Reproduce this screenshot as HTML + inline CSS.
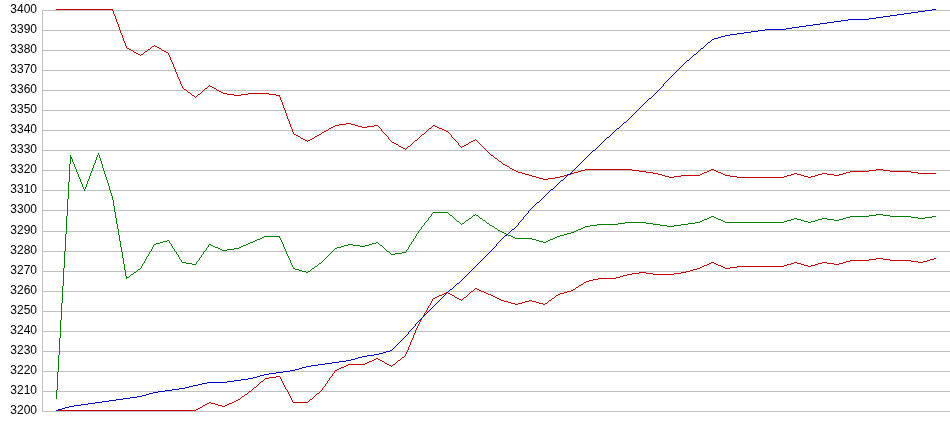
<!DOCTYPE html>
<html><head><meta charset="utf-8"><style>
html,body{margin:0;padding:0;background:#fff;width:950px;height:435px;overflow:hidden}
svg{display:block}
text{font-family:"Liberation Sans",sans-serif;font-size:12px;fill:#000;text-anchor:end}
</style></head><body>
<svg width="950" height="435" viewBox="0 0 950 435" shape-rendering="crispEdges">
<rect width="950" height="435" fill="#fff"/>
<path fill="#c0c0c0" d="M42 10H950v1H42zM42 30H950v1H42zM42 50H950v1H42zM42 70H950v1H42zM42 90H950v1H42zM42 110H950v1H42zM42 130H950v1H42zM42 150H950v1H42zM42 170H950v1H42zM42 190H950v1H42zM42 210H950v1H42zM42 231H950v1H42zM42 251H950v1H42zM42 271H950v1H42zM42 291H950v1H42zM42 311H950v1H42zM42 331H950v1H42zM42 351H950v1H42zM42 371H950v1H42zM42 391H950v1H42zM42 411H950v1H42zM42 10h1V412h-1z"/>
<g style="will-change:transform;transform:translateZ(0)" shape-rendering="auto"><text x="37" y="12.5">3400</text><text x="37" y="32.5">3390</text><text x="37" y="52.5">3380</text><text x="37" y="72.5">3370</text><text x="37" y="92.5">3360</text><text x="37" y="112.5">3350</text><text x="37" y="132.5">3340</text><text x="37" y="152.5">3330</text><text x="37" y="172.5">3320</text><text x="37" y="192.5">3310</text><text x="37" y="212.5">3300</text><text x="37" y="233.5">3290</text><text x="37" y="253.5">3280</text><text x="37" y="273.5">3270</text><text x="37" y="293.5">3260</text><text x="37" y="313.5">3250</text><text x="37" y="333.5">3240</text><text x="37" y="353.5">3230</text><text x="37" y="373.5">3220</text><text x="37" y="393.5">3210</text><text x="37" y="413.5">3200</text></g>
<path fill="#c80000" d="M56 9h57v1h-57zM112 10h1v1h-1zM113 11h1v1h-1zM113 12h1v1h-1zM113 13h1v1h-1zM114 14h1v1h-1zM114 15h1v1h-1zM115 16h1v1h-1zM115 17h1v1h-1zM115 18h1v1h-1zM116 19h1v1h-1zM116 20h1v1h-1zM116 21h1v1h-1zM117 22h1v1h-1zM117 23h1v1h-1zM118 24h1v1h-1zM118 25h1v1h-1zM118 26h1v1h-1zM119 27h1v1h-1zM119 28h1v1h-1zM119 29h1v1h-1zM120 30h1v1h-1zM120 31h1v1h-1zM120 32h1v1h-1zM121 33h1v1h-1zM121 34h1v1h-1zM122 35h1v1h-1zM122 36h1v1h-1zM122 37h1v1h-1zM123 38h1v1h-1zM123 39h1v1h-1zM123 40h1v1h-1zM124 41h1v1h-1zM124 42h1v1h-1zM125 43h1v1h-1zM125 44h1v1h-1zM125 45h1v1h-1zM154 45h1v1h-1zM126 46h1v1h-1zM152 46h2v1h-2zM155 46h2v1h-2zM126 47h1v1h-1zM151 47h1v1h-1zM157 47h2v1h-2zM127 48h2v1h-2zM150 48h1v1h-1zM159 48h2v1h-2zM129 49h2v1h-2zM148 49h2v1h-2zM161 49h1v1h-1zM131 50h2v1h-2zM147 50h1v1h-1zM162 50h2v1h-2zM133 51h1v1h-1zM145 51h2v1h-2zM164 51h2v1h-2zM134 52h2v1h-2zM144 52h1v1h-1zM166 52h2v1h-2zM136 53h2v1h-2zM143 53h1v1h-1zM168 53h1v1h-1zM138 54h2v1h-2zM141 54h2v1h-2zM168 54h1v1h-1zM140 55h1v1h-1zM169 55h1v1h-1zM169 56h1v1h-1zM170 57h1v1h-1zM170 58h1v1h-1zM170 59h1v1h-1zM171 60h1v1h-1zM171 61h1v1h-1zM172 62h1v1h-1zM172 63h1v1h-1zM173 64h1v1h-1zM173 65h1v1h-1zM173 66h1v1h-1zM174 67h1v1h-1zM174 68h1v1h-1zM175 69h1v1h-1zM175 70h1v1h-1zM175 71h1v1h-1zM176 72h1v1h-1zM176 73h1v1h-1zM177 74h1v1h-1zM177 75h1v1h-1zM177 76h1v1h-1zM178 77h1v1h-1zM178 78h1v1h-1zM179 79h1v1h-1zM179 80h1v1h-1zM180 81h1v1h-1zM180 82h1v1h-1zM180 83h1v1h-1zM181 84h1v1h-1zM181 85h1v1h-1zM209 85h1v1h-1zM182 86h1v1h-1zM208 86h1v1h-1zM210 86h2v1h-2zM182 87h1v1h-1zM207 87h1v1h-1zM212 87h2v1h-2zM183 88h1v1h-1zM205 88h2v1h-2zM214 88h2v1h-2zM184 89h2v1h-2zM204 89h1v1h-1zM216 89h1v1h-1zM186 90h1v1h-1zM203 90h1v1h-1zM217 90h2v1h-2zM187 91h1v1h-1zM202 91h1v1h-1zM219 91h2v1h-2zM188 92h2v1h-2zM201 92h1v1h-1zM221 92h2v1h-2zM190 93h1v1h-1zM200 93h1v1h-1zM223 93h4v1h-4zM248 93h21v1h-21zM191 94h1v1h-1zM198 94h2v1h-2zM227 94h7v1h-7zM241 94h7v1h-7zM269 94h7v1h-7zM192 95h2v1h-2zM197 95h1v1h-1zM234 95h7v1h-7zM276 95h4v1h-4zM194 96h1v1h-1zM196 96h1v1h-1zM279 96h1v1h-1zM195 97h1v1h-1zM280 97h1v1h-1zM280 98h1v1h-1zM280 99h1v1h-1zM281 100h1v1h-1zM281 101h1v1h-1zM282 102h1v1h-1zM282 103h1v1h-1zM282 104h1v1h-1zM283 105h1v1h-1zM283 106h1v1h-1zM283 107h1v1h-1zM284 108h1v1h-1zM284 109h1v1h-1zM285 110h1v1h-1zM285 111h1v1h-1zM285 112h1v1h-1zM286 113h1v1h-1zM286 114h1v1h-1zM286 115h1v1h-1zM287 116h1v1h-1zM287 117h1v1h-1zM287 118h1v1h-1zM288 119h1v1h-1zM288 120h1v1h-1zM289 121h1v1h-1zM289 122h1v1h-1zM289 123h1v1h-1zM346 123h5v1h-5zM290 124h1v1h-1zM339 124h7v1h-7zM351 124h4v1h-4zM290 125h1v1h-1zM335 125h4v1h-4zM355 125h3v1h-3zM374 125h4v1h-4zM433 125h2v1h-2zM290 126h1v1h-1zM333 126h2v1h-2zM358 126h4v1h-4zM367 126h7v1h-7zM378 126h1v1h-1zM432 126h1v1h-1zM435 126h2v1h-2zM291 127h1v1h-1zM331 127h2v1h-2zM362 127h5v1h-5zM379 127h1v1h-1zM431 127h1v1h-1zM437 127h2v1h-2zM291 128h1v1h-1zM329 128h2v1h-2zM380 128h1v1h-1zM429 128h2v1h-2zM439 128h3v1h-3zM292 129h1v1h-1zM328 129h1v1h-1zM381 129h1v1h-1zM428 129h1v1h-1zM442 129h2v1h-2zM292 130h1v1h-1zM326 130h2v1h-2zM381 130h1v1h-1zM427 130h1v1h-1zM444 130h2v1h-2zM292 131h1v1h-1zM324 131h2v1h-2zM382 131h1v1h-1zM426 131h1v1h-1zM446 131h2v1h-2zM293 132h1v1h-1zM322 132h2v1h-2zM383 132h1v1h-1zM425 132h1v1h-1zM448 132h1v1h-1zM293 133h1v1h-1zM321 133h1v1h-1zM384 133h1v1h-1zM424 133h1v1h-1zM449 133h1v1h-1zM294 134h2v1h-2zM319 134h2v1h-2zM385 134h1v1h-1zM422 134h2v1h-2zM450 134h1v1h-1zM296 135h2v1h-2zM317 135h2v1h-2zM386 135h1v1h-1zM421 135h1v1h-1zM451 135h1v1h-1zM298 136h2v1h-2zM315 136h2v1h-2zM387 136h1v1h-1zM420 136h1v1h-1zM451 136h1v1h-1zM300 137h1v1h-1zM314 137h1v1h-1zM388 137h1v1h-1zM419 137h1v1h-1zM452 137h1v1h-1zM301 138h2v1h-2zM312 138h2v1h-2zM388 138h1v1h-1zM418 138h1v1h-1zM453 138h1v1h-1zM303 139h2v1h-2zM310 139h2v1h-2zM389 139h1v1h-1zM417 139h1v1h-1zM454 139h1v1h-1zM475 139h1v1h-1zM305 140h2v1h-2zM308 140h2v1h-2zM390 140h1v1h-1zM415 140h2v1h-2zM455 140h1v1h-1zM473 140h2v1h-2zM476 140h1v1h-1zM307 141h1v1h-1zM391 141h1v1h-1zM414 141h1v1h-1zM456 141h1v1h-1zM471 141h2v1h-2zM477 141h1v1h-1zM392 142h2v1h-2zM413 142h1v1h-1zM457 142h1v1h-1zM469 142h2v1h-2zM478 142h1v1h-1zM394 143h2v1h-2zM412 143h1v1h-1zM458 143h1v1h-1zM468 143h1v1h-1zM479 143h1v1h-1zM396 144h2v1h-2zM411 144h1v1h-1zM458 144h1v1h-1zM466 144h2v1h-2zM480 144h1v1h-1zM398 145h1v1h-1zM410 145h1v1h-1zM459 145h1v1h-1zM464 145h2v1h-2zM481 145h1v1h-1zM399 146h2v1h-2zM408 146h2v1h-2zM460 146h1v1h-1zM462 146h2v1h-2zM482 146h1v1h-1zM401 147h2v1h-2zM407 147h1v1h-1zM461 147h1v1h-1zM483 147h1v1h-1zM403 148h2v1h-2zM406 148h1v1h-1zM484 148h1v1h-1zM405 149h1v1h-1zM485 149h1v1h-1zM486 150h1v1h-1zM487 151h1v1h-1zM488 152h1v1h-1zM489 153h1v1h-1zM490 154h1v1h-1zM491 155h2v1h-2zM493 156h1v1h-1zM494 157h1v1h-1zM495 158h2v1h-2zM497 159h1v1h-1zM498 160h1v1h-1zM499 161h2v1h-2zM501 162h1v1h-1zM502 163h1v1h-1zM503 164h2v1h-2zM505 165h2v1h-2zM507 166h2v1h-2zM509 167h1v1h-1zM510 168h2v1h-2zM512 169h2v1h-2zM585 169h47v1h-47zM711 169h3v1h-3zM876 169h7v1h-7zM514 170h2v1h-2zM581 170h4v1h-4zM632 170h7v1h-7zM709 170h2v1h-2zM714 170h2v1h-2zM869 170h7v1h-7zM883 170h7v1h-7zM516 171h2v1h-2zM578 171h3v1h-3zM639 171h7v1h-7zM707 171h2v1h-2zM716 171h2v1h-2zM850 171h19v1h-19zM890 171h21v1h-21zM518 172h4v1h-4zM574 172h4v1h-4zM646 172h7v1h-7zM704 172h3v1h-3zM718 172h3v1h-3zM846 172h4v1h-4zM911 172h7v1h-7zM522 173h3v1h-3zM571 173h3v1h-3zM653 173h5v1h-5zM702 173h2v1h-2zM721 173h2v1h-2zM794 173h3v1h-3zM822 173h5v1h-5zM843 173h3v1h-3zM918 173h18v1h-18zM525 174h4v1h-4zM567 174h4v1h-4zM658 174h4v1h-4zM700 174h2v1h-2zM723 174h2v1h-2zM791 174h3v1h-3zM797 174h4v1h-4zM818 174h4v1h-4zM827 174h7v1h-7zM839 174h4v1h-4zM529 175h3v1h-3zM564 175h3v1h-3zM662 175h3v1h-3zM681 175h19v1h-19zM725 175h5v1h-5zM787 175h4v1h-4zM801 175h3v1h-3zM815 175h3v1h-3zM834 175h5v1h-5zM532 176h4v1h-4zM560 176h4v1h-4zM665 176h4v1h-4zM674 176h7v1h-7zM730 176h7v1h-7zM784 176h3v1h-3zM804 176h4v1h-4zM811 176h4v1h-4zM536 177h3v1h-3zM555 177h5v1h-5zM669 177h5v1h-5zM737 177h47v1h-47zM808 177h3v1h-3zM539 178h4v1h-4zM548 178h7v1h-7zM543 179h5v1h-5z"/>
<path fill="#008000" d="M98 153h1v1h-1zM98 154h1v1h-1zM70 155h1v1h-1zM97 155h1v1h-1zM99 155h1v1h-1zM70 156h1v1h-1zM97 156h1v1h-1zM99 156h1v1h-1zM70 157h2v1h-2zM96 157h1v1h-1zM99 157h1v1h-1zM70 158h2v1h-2zM96 158h1v1h-1zM100 158h1v1h-1zM70 159h1v1h-1zM72 159h1v1h-1zM96 159h1v1h-1zM100 159h1v1h-1zM70 160h1v1h-1zM72 160h1v1h-1zM95 160h1v1h-1zM100 160h1v1h-1zM70 161h1v1h-1zM72 161h1v1h-1zM95 161h1v1h-1zM101 161h1v1h-1zM70 162h1v1h-1zM73 162h1v1h-1zM95 162h1v1h-1zM101 162h1v1h-1zM70 163h1v1h-1zM73 163h1v1h-1zM94 163h1v1h-1zM101 163h1v1h-1zM69 164h1v1h-1zM74 164h1v1h-1zM94 164h1v1h-1zM102 164h1v1h-1zM69 165h1v1h-1zM74 165h1v1h-1zM93 165h1v1h-1zM102 165h1v1h-1zM69 166h1v1h-1zM74 166h1v1h-1zM93 166h1v1h-1zM102 166h1v1h-1zM69 167h1v1h-1zM75 167h1v1h-1zM93 167h1v1h-1zM102 167h1v1h-1zM69 168h1v1h-1zM75 168h1v1h-1zM92 168h1v1h-1zM103 168h1v1h-1zM69 169h1v1h-1zM76 169h1v1h-1zM92 169h1v1h-1zM103 169h1v1h-1zM69 170h1v1h-1zM76 170h1v1h-1zM92 170h1v1h-1zM103 170h1v1h-1zM69 171h1v1h-1zM76 171h1v1h-1zM91 171h1v1h-1zM104 171h1v1h-1zM69 172h1v1h-1zM77 172h1v1h-1zM91 172h1v1h-1zM104 172h1v1h-1zM69 173h1v1h-1zM77 173h1v1h-1zM90 173h1v1h-1zM104 173h1v1h-1zM69 174h1v1h-1zM78 174h1v1h-1zM90 174h1v1h-1zM105 174h1v1h-1zM69 175h1v1h-1zM78 175h1v1h-1zM90 175h1v1h-1zM105 175h1v1h-1zM69 176h1v1h-1zM78 176h1v1h-1zM89 176h1v1h-1zM105 176h1v1h-1zM69 177h1v1h-1zM79 177h1v1h-1zM89 177h1v1h-1zM106 177h1v1h-1zM69 178h1v1h-1zM79 178h1v1h-1zM89 178h1v1h-1zM106 178h1v1h-1zM69 179h1v1h-1zM80 179h1v1h-1zM88 179h1v1h-1zM106 179h1v1h-1zM69 180h1v1h-1zM80 180h1v1h-1zM88 180h1v1h-1zM107 180h1v1h-1zM69 181h1v1h-1zM80 181h1v1h-1zM87 181h1v1h-1zM107 181h1v1h-1zM68 182h1v1h-1zM81 182h1v1h-1zM87 182h1v1h-1zM107 182h1v1h-1zM68 183h1v1h-1zM81 183h1v1h-1zM87 183h1v1h-1zM108 183h1v1h-1zM68 184h1v1h-1zM82 184h1v1h-1zM86 184h1v1h-1zM108 184h1v1h-1zM68 185h1v1h-1zM82 185h1v1h-1zM86 185h1v1h-1zM108 185h1v1h-1zM68 186h1v1h-1zM82 186h1v1h-1zM86 186h1v1h-1zM109 186h1v1h-1zM68 187h1v1h-1zM83 187h1v1h-1zM85 187h1v1h-1zM109 187h1v1h-1zM68 188h1v1h-1zM83 188h1v1h-1zM85 188h1v1h-1zM109 188h1v1h-1zM68 189h1v1h-1zM84 189h1v1h-1zM109 189h1v1h-1zM68 190h1v1h-1zM84 190h1v1h-1zM110 190h1v1h-1zM68 191h1v1h-1zM110 191h1v1h-1zM68 192h1v1h-1zM110 192h1v1h-1zM68 193h1v1h-1zM111 193h1v1h-1zM68 194h1v1h-1zM111 194h1v1h-1zM68 195h1v1h-1zM111 195h1v1h-1zM68 196h1v1h-1zM112 196h1v1h-1zM68 197h1v1h-1zM112 197h1v1h-1zM68 198h1v1h-1zM112 198h1v1h-1zM67 199h1v1h-1zM112 199h1v1h-1zM67 200h1v1h-1zM113 200h1v1h-1zM67 201h1v1h-1zM113 201h1v1h-1zM67 202h1v1h-1zM113 202h1v1h-1zM67 203h1v1h-1zM113 203h1v1h-1zM67 204h1v1h-1zM113 204h1v1h-1zM67 205h1v1h-1zM113 205h1v1h-1zM67 206h1v1h-1zM114 206h1v1h-1zM67 207h1v1h-1zM114 207h1v1h-1zM67 208h1v1h-1zM114 208h1v1h-1zM67 209h1v1h-1zM114 209h1v1h-1zM67 210h1v1h-1zM114 210h1v1h-1zM67 211h1v1h-1zM114 211h1v1h-1zM67 212h1v1h-1zM115 212h1v1h-1zM433 212h15v1h-15zM67 213h1v1h-1zM115 213h1v1h-1zM432 213h1v1h-1zM448 213h1v1h-1zM67 214h1v1h-1zM115 214h1v1h-1zM431 214h1v1h-1zM449 214h1v1h-1zM475 214h1v1h-1zM876 214h7v1h-7zM67 215h1v1h-1zM115 215h1v1h-1zM431 215h1v1h-1zM450 215h2v1h-2zM473 215h2v1h-2zM476 215h2v1h-2zM869 215h7v1h-7zM883 215h7v1h-7zM66 216h1v1h-1zM115 216h1v1h-1zM430 216h1v1h-1zM452 216h1v1h-1zM472 216h1v1h-1zM478 216h1v1h-1zM711 216h3v1h-3zM850 216h19v1h-19zM890 216h21v1h-21zM932 216h4v1h-4zM66 217h1v1h-1zM115 217h1v1h-1zM429 217h1v1h-1zM453 217h1v1h-1zM471 217h1v1h-1zM479 217h1v1h-1zM709 217h2v1h-2zM714 217h2v1h-2zM846 217h4v1h-4zM911 217h7v1h-7zM925 217h7v1h-7zM66 218h1v1h-1zM116 218h1v1h-1zM428 218h1v1h-1zM454 218h1v1h-1zM469 218h2v1h-2zM480 218h2v1h-2zM707 218h2v1h-2zM716 218h2v1h-2zM794 218h3v1h-3zM822 218h5v1h-5zM843 218h3v1h-3zM918 218h7v1h-7zM66 219h1v1h-1zM116 219h1v1h-1zM428 219h1v1h-1zM455 219h1v1h-1zM468 219h1v1h-1zM482 219h1v1h-1zM704 219h3v1h-3zM718 219h3v1h-3zM791 219h3v1h-3zM797 219h4v1h-4zM818 219h4v1h-4zM827 219h7v1h-7zM839 219h4v1h-4zM66 220h1v1h-1zM116 220h1v1h-1zM427 220h1v1h-1zM456 220h1v1h-1zM466 220h2v1h-2zM483 220h2v1h-2zM702 220h2v1h-2zM721 220h2v1h-2zM787 220h4v1h-4zM801 220h3v1h-3zM815 220h3v1h-3zM834 220h5v1h-5zM66 221h1v1h-1zM116 221h1v1h-1zM426 221h1v1h-1zM457 221h2v1h-2zM465 221h1v1h-1zM485 221h1v1h-1zM700 221h2v1h-2zM723 221h2v1h-2zM784 221h3v1h-3zM804 221h4v1h-4zM811 221h4v1h-4zM66 222h1v1h-1zM116 222h1v1h-1zM425 222h1v1h-1zM459 222h1v1h-1zM464 222h1v1h-1zM486 222h1v1h-1zM625 222h21v1h-21zM695 222h5v1h-5zM725 222h59v1h-59zM808 222h3v1h-3zM66 223h1v1h-1zM116 223h1v1h-1zM424 223h1v1h-1zM460 223h1v1h-1zM462 223h2v1h-2zM487 223h2v1h-2zM618 223h7v1h-7zM646 223h7v1h-7zM688 223h7v1h-7zM66 224h1v1h-1zM117 224h1v1h-1zM424 224h1v1h-1zM461 224h1v1h-1zM489 224h1v1h-1zM597 224h21v1h-21zM653 224h7v1h-7zM681 224h7v1h-7zM66 225h1v1h-1zM117 225h1v1h-1zM423 225h1v1h-1zM490 225h2v1h-2zM590 225h7v1h-7zM660 225h7v1h-7zM674 225h7v1h-7zM66 226h1v1h-1zM117 226h1v1h-1zM422 226h1v1h-1zM492 226h2v1h-2zM585 226h5v1h-5zM667 226h7v1h-7zM66 227h1v1h-1zM117 227h1v1h-1zM421 227h1v1h-1zM494 227h1v1h-1zM583 227h2v1h-2zM66 228h1v1h-1zM117 228h1v1h-1zM421 228h1v1h-1zM495 228h2v1h-2zM581 228h2v1h-2zM66 229h1v1h-1zM118 229h1v1h-1zM420 229h1v1h-1zM497 229h1v1h-1zM578 229h3v1h-3zM66 230h1v1h-1zM118 230h1v1h-1zM419 230h1v1h-1zM498 230h2v1h-2zM576 230h2v1h-2zM66 231h1v1h-1zM118 231h1v1h-1zM418 231h1v1h-1zM500 231h2v1h-2zM574 231h2v1h-2zM66 232h1v1h-1zM118 232h1v1h-1zM418 232h1v1h-1zM502 232h2v1h-2zM571 232h3v1h-3zM66 233h1v1h-1zM118 233h1v1h-1zM417 233h1v1h-1zM504 233h2v1h-2zM567 233h4v1h-4zM65 234h1v1h-1zM118 234h1v1h-1zM416 234h1v1h-1zM506 234h2v1h-2zM564 234h3v1h-3zM65 235h1v1h-1zM119 235h1v1h-1zM416 235h1v1h-1zM508 235h3v1h-3zM560 235h4v1h-4zM65 236h1v1h-1zM119 236h1v1h-1zM264 236h16v1h-16zM415 236h1v1h-1zM511 236h2v1h-2zM557 236h3v1h-3zM65 237h1v1h-1zM119 237h1v1h-1zM262 237h2v1h-2zM279 237h1v1h-1zM415 237h1v1h-1zM513 237h2v1h-2zM555 237h2v1h-2zM65 238h1v1h-1zM119 238h1v1h-1zM260 238h2v1h-2zM280 238h1v1h-1zM414 238h1v1h-1zM515 238h17v1h-17zM553 238h2v1h-2zM65 239h1v1h-1zM119 239h1v1h-1zM257 239h3v1h-3zM280 239h1v1h-1zM413 239h1v1h-1zM532 239h4v1h-4zM550 239h3v1h-3zM65 240h1v1h-1zM119 240h1v1h-1zM167 240h2v1h-2zM255 240h2v1h-2zM281 240h1v1h-1zM413 240h1v1h-1zM536 240h3v1h-3zM548 240h2v1h-2zM65 241h1v1h-1zM120 241h1v1h-1zM163 241h4v1h-4zM169 241h1v1h-1zM253 241h2v1h-2zM281 241h1v1h-1zM412 241h1v1h-1zM539 241h4v1h-4zM546 241h2v1h-2zM65 242h1v1h-1zM120 242h1v1h-1zM160 242h3v1h-3zM169 242h1v1h-1zM250 242h3v1h-3zM282 242h1v1h-1zM376 242h2v1h-2zM411 242h1v1h-1zM543 242h3v1h-3zM65 243h1v1h-1zM120 243h1v1h-1zM156 243h4v1h-4zM170 243h1v1h-1zM248 243h2v1h-2zM282 243h1v1h-1zM372 243h4v1h-4zM378 243h1v1h-1zM411 243h1v1h-1zM65 244h1v1h-1zM120 244h1v1h-1zM154 244h2v1h-2zM171 244h1v1h-1zM209 244h2v1h-2zM246 244h2v1h-2zM283 244h1v1h-1zM348 244h5v1h-5zM369 244h3v1h-3zM379 244h1v1h-1zM410 244h1v1h-1zM65 245h1v1h-1zM120 245h1v1h-1zM153 245h1v1h-1zM171 245h1v1h-1zM208 245h1v1h-1zM211 245h2v1h-2zM243 245h3v1h-3zM283 245h1v1h-1zM344 245h4v1h-4zM353 245h7v1h-7zM365 245h4v1h-4zM380 245h2v1h-2zM409 245h1v1h-1zM65 246h1v1h-1zM120 246h1v1h-1zM153 246h1v1h-1zM172 246h1v1h-1zM208 246h1v1h-1zM213 246h2v1h-2zM241 246h2v1h-2zM283 246h1v1h-1zM341 246h3v1h-3zM360 246h5v1h-5zM382 246h1v1h-1zM409 246h1v1h-1zM65 247h1v1h-1zM121 247h1v1h-1zM152 247h1v1h-1zM172 247h1v1h-1zM207 247h1v1h-1zM215 247h3v1h-3zM239 247h2v1h-2zM284 247h1v1h-1zM337 247h4v1h-4zM383 247h1v1h-1zM408 247h1v1h-1zM65 248h1v1h-1zM121 248h1v1h-1zM152 248h1v1h-1zM173 248h1v1h-1zM206 248h1v1h-1zM218 248h2v1h-2zM234 248h5v1h-5zM284 248h1v1h-1zM335 248h2v1h-2zM384 248h1v1h-1zM408 248h1v1h-1zM65 249h1v1h-1zM121 249h1v1h-1zM151 249h1v1h-1zM174 249h1v1h-1zM206 249h1v1h-1zM220 249h2v1h-2zM227 249h7v1h-7zM285 249h1v1h-1zM334 249h1v1h-1zM385 249h1v1h-1zM407 249h1v1h-1zM65 250h1v1h-1zM121 250h1v1h-1zM151 250h1v1h-1zM174 250h1v1h-1zM205 250h1v1h-1zM222 250h5v1h-5zM285 250h1v1h-1zM333 250h1v1h-1zM386 250h1v1h-1zM406 250h1v1h-1zM64 251h1v1h-1zM121 251h1v1h-1zM150 251h1v1h-1zM175 251h1v1h-1zM204 251h1v1h-1zM286 251h1v1h-1zM332 251h1v1h-1zM387 251h2v1h-2zM406 251h1v1h-1zM64 252h1v1h-1zM122 252h1v1h-1zM149 252h1v1h-1zM176 252h1v1h-1zM203 252h1v1h-1zM286 252h1v1h-1zM331 252h1v1h-1zM389 252h1v1h-1zM402 252h4v1h-4zM64 253h1v1h-1zM122 253h1v1h-1zM149 253h1v1h-1zM176 253h1v1h-1zM203 253h1v1h-1zM286 253h1v1h-1zM330 253h1v1h-1zM390 253h1v1h-1zM395 253h7v1h-7zM64 254h1v1h-1zM122 254h1v1h-1zM148 254h1v1h-1zM177 254h1v1h-1zM202 254h1v1h-1zM287 254h1v1h-1zM329 254h1v1h-1zM391 254h4v1h-4zM64 255h1v1h-1zM122 255h1v1h-1zM148 255h1v1h-1zM178 255h1v1h-1zM201 255h1v1h-1zM287 255h1v1h-1zM328 255h1v1h-1zM64 256h1v1h-1zM122 256h1v1h-1zM147 256h1v1h-1zM178 256h1v1h-1zM201 256h1v1h-1zM288 256h1v1h-1zM327 256h1v1h-1zM64 257h1v1h-1zM122 257h1v1h-1zM146 257h1v1h-1zM179 257h1v1h-1zM200 257h1v1h-1zM288 257h1v1h-1zM326 257h1v1h-1zM64 258h1v1h-1zM123 258h1v1h-1zM146 258h1v1h-1zM179 258h1v1h-1zM199 258h1v1h-1zM289 258h1v1h-1zM325 258h1v1h-1zM64 259h1v1h-1zM123 259h1v1h-1zM145 259h1v1h-1zM180 259h1v1h-1zM199 259h1v1h-1zM289 259h1v1h-1zM324 259h1v1h-1zM64 260h1v1h-1zM123 260h1v1h-1zM145 260h1v1h-1zM181 260h1v1h-1zM198 260h1v1h-1zM290 260h1v1h-1zM323 260h1v1h-1zM64 261h1v1h-1zM123 261h1v1h-1zM144 261h1v1h-1zM181 261h1v1h-1zM197 261h1v1h-1zM290 261h1v1h-1zM322 261h1v1h-1zM64 262h1v1h-1zM123 262h1v1h-1zM144 262h1v1h-1zM182 262h4v1h-4zM196 262h1v1h-1zM290 262h1v1h-1zM321 262h1v1h-1zM64 263h1v1h-1zM123 263h1v1h-1zM143 263h1v1h-1zM186 263h6v1h-6zM196 263h1v1h-1zM291 263h1v1h-1zM319 263h2v1h-2zM64 264h1v1h-1zM124 264h1v1h-1zM142 264h1v1h-1zM192 264h4v1h-4zM291 264h1v1h-1zM318 264h1v1h-1zM64 265h1v1h-1zM124 265h1v1h-1zM142 265h1v1h-1zM292 265h1v1h-1zM317 265h1v1h-1zM64 266h1v1h-1zM124 266h1v1h-1zM141 266h1v1h-1zM292 266h1v1h-1zM315 266h2v1h-2zM64 267h1v1h-1zM124 267h1v1h-1zM141 267h1v1h-1zM293 267h1v1h-1zM314 267h1v1h-1zM63 268h1v1h-1zM124 268h1v1h-1zM140 268h1v1h-1zM293 268h2v1h-2zM312 268h2v1h-2zM63 269h1v1h-1zM124 269h1v1h-1zM138 269h2v1h-2zM295 269h4v1h-4zM311 269h1v1h-1zM63 270h1v1h-1zM125 270h1v1h-1zM137 270h1v1h-1zM299 270h3v1h-3zM310 270h1v1h-1zM63 271h1v1h-1zM125 271h1v1h-1zM136 271h1v1h-1zM302 271h4v1h-4zM308 271h2v1h-2zM63 272h1v1h-1zM125 272h1v1h-1zM134 272h2v1h-2zM306 272h2v1h-2zM63 273h1v1h-1zM125 273h1v1h-1zM133 273h1v1h-1zM63 274h1v1h-1zM125 274h1v1h-1zM131 274h2v1h-2zM63 275h1v1h-1zM125 275h1v1h-1zM130 275h1v1h-1zM63 276h1v1h-1zM126 276h1v1h-1zM129 276h1v1h-1zM63 277h1v1h-1zM126 277h3v1h-3zM63 278h1v1h-1zM126 278h1v1h-1zM63 279h1v1h-1zM63 280h1v1h-1zM63 281h1v1h-1zM63 282h1v1h-1zM63 283h1v1h-1zM63 284h1v1h-1zM63 285h1v1h-1zM62 286h1v1h-1zM62 287h1v1h-1zM62 288h1v1h-1zM62 289h1v1h-1zM62 290h1v1h-1zM62 291h1v1h-1zM62 292h1v1h-1zM62 293h1v1h-1zM62 294h1v1h-1zM62 295h1v1h-1zM62 296h1v1h-1zM62 297h1v1h-1zM62 298h1v1h-1zM62 299h1v1h-1zM62 300h1v1h-1zM62 301h1v1h-1zM62 302h1v1h-1zM61 303h1v1h-1zM61 304h1v1h-1zM61 305h1v1h-1zM61 306h1v1h-1zM61 307h1v1h-1zM61 308h1v1h-1zM61 309h1v1h-1zM61 310h1v1h-1zM61 311h1v1h-1zM61 312h1v1h-1zM61 313h1v1h-1zM61 314h1v1h-1zM61 315h1v1h-1zM61 316h1v1h-1zM61 317h1v1h-1zM61 318h1v1h-1zM61 319h1v1h-1zM60 320h1v1h-1zM60 321h1v1h-1zM60 322h1v1h-1zM60 323h1v1h-1zM60 324h1v1h-1zM60 325h1v1h-1zM60 326h1v1h-1zM60 327h1v1h-1zM60 328h1v1h-1zM60 329h1v1h-1zM60 330h1v1h-1zM60 331h1v1h-1zM60 332h1v1h-1zM60 333h1v1h-1zM60 334h1v1h-1zM60 335h1v1h-1zM60 336h1v1h-1zM60 337h1v1h-1zM59 338h1v1h-1zM59 339h1v1h-1zM59 340h1v1h-1zM59 341h1v1h-1zM59 342h1v1h-1zM59 343h1v1h-1zM59 344h1v1h-1zM59 345h1v1h-1zM59 346h1v1h-1zM59 347h1v1h-1zM59 348h1v1h-1zM59 349h1v1h-1zM59 350h1v1h-1zM59 351h1v1h-1zM59 352h1v1h-1zM59 353h1v1h-1zM59 354h1v1h-1zM58 355h1v1h-1zM58 356h1v1h-1zM58 357h1v1h-1zM58 358h1v1h-1zM58 359h1v1h-1zM58 360h1v1h-1zM58 361h1v1h-1zM58 362h1v1h-1zM58 363h1v1h-1zM58 364h1v1h-1zM58 365h1v1h-1zM58 366h1v1h-1zM58 367h1v1h-1zM58 368h1v1h-1zM58 369h1v1h-1zM58 370h1v1h-1zM58 371h1v1h-1zM57 372h1v1h-1zM57 373h1v1h-1zM57 374h1v1h-1zM57 375h1v1h-1zM57 376h1v1h-1zM57 377h1v1h-1zM57 378h1v1h-1zM57 379h1v1h-1zM57 380h1v1h-1zM57 381h1v1h-1zM57 382h1v1h-1zM57 383h1v1h-1zM57 384h1v1h-1zM57 385h1v1h-1zM57 386h1v1h-1zM57 387h1v1h-1zM57 388h1v1h-1zM57 389h1v1h-1zM56 390h1v1h-1zM56 391h1v1h-1zM56 392h1v1h-1zM56 393h1v1h-1zM56 394h1v1h-1zM56 395h1v1h-1zM56 396h1v1h-1zM56 397h1v1h-1zM56 398h1v1h-1z"/>
<path fill="#c80000" d="M876 258h7v1h-7zM934 258h2v1h-2zM869 259h7v1h-7zM883 259h7v1h-7zM930 259h4v1h-4zM850 260h19v1h-19zM890 260h21v1h-21zM927 260h3v1h-3zM846 261h4v1h-4zM911 261h7v1h-7zM923 261h4v1h-4zM711 262h3v1h-3zM794 262h3v1h-3zM822 262h5v1h-5zM843 262h3v1h-3zM918 262h5v1h-5zM709 263h2v1h-2zM714 263h2v1h-2zM791 263h3v1h-3zM797 263h4v1h-4zM818 263h4v1h-4zM827 263h7v1h-7zM839 263h4v1h-4zM707 264h2v1h-2zM716 264h2v1h-2zM787 264h4v1h-4zM801 264h3v1h-3zM815 264h3v1h-3zM834 264h5v1h-5zM704 265h3v1h-3zM718 265h3v1h-3zM784 265h3v1h-3zM804 265h4v1h-4zM811 265h4v1h-4zM702 266h2v1h-2zM721 266h2v1h-2zM737 266h47v1h-47zM808 266h3v1h-3zM700 267h2v1h-2zM723 267h2v1h-2zM730 267h7v1h-7zM697 268h3v1h-3zM725 268h5v1h-5zM693 269h4v1h-4zM690 270h3v1h-3zM686 271h4v1h-4zM639 272h7v1h-7zM681 272h5v1h-5zM632 273h7v1h-7zM646 273h7v1h-7zM674 273h7v1h-7zM627 274h5v1h-5zM653 274h21v1h-21zM623 275h4v1h-4zM620 276h3v1h-3zM616 277h4v1h-4zM598 278h18v1h-18zM593 279h5v1h-5zM589 280h4v1h-4zM586 281h3v1h-3zM584 282h2v1h-2zM583 283h1v1h-1zM581 284h2v1h-2zM579 285h2v1h-2zM578 286h1v1h-1zM576 287h2v1h-2zM475 288h2v1h-2zM575 288h1v1h-1zM474 289h1v1h-1zM477 289h2v1h-2zM573 289h2v1h-2zM473 290h1v1h-1zM479 290h2v1h-2zM571 290h2v1h-2zM471 291h2v1h-2zM481 291h3v1h-3zM567 291h4v1h-4zM446 292h2v1h-2zM470 292h1v1h-1zM484 292h2v1h-2zM564 292h3v1h-3zM444 293h2v1h-2zM448 293h2v1h-2zM469 293h1v1h-1zM486 293h2v1h-2zM560 293h4v1h-4zM442 294h2v1h-2zM450 294h2v1h-2zM468 294h1v1h-1zM488 294h3v1h-3zM558 294h2v1h-2zM439 295h3v1h-3zM452 295h2v1h-2zM467 295h1v1h-1zM491 295h2v1h-2zM556 295h2v1h-2zM437 296h2v1h-2zM454 296h1v1h-1zM466 296h1v1h-1zM493 296h2v1h-2zM555 296h1v1h-1zM435 297h2v1h-2zM455 297h2v1h-2zM464 297h2v1h-2zM495 297h2v1h-2zM554 297h1v1h-1zM433 298h2v1h-2zM457 298h2v1h-2zM463 298h1v1h-1zM497 298h2v1h-2zM552 298h2v1h-2zM432 299h1v1h-1zM459 299h2v1h-2zM462 299h1v1h-1zM499 299h2v1h-2zM551 299h1v1h-1zM432 300h1v1h-1zM461 300h1v1h-1zM501 300h3v1h-3zM529 300h3v1h-3zM549 300h2v1h-2zM431 301h1v1h-1zM504 301h4v1h-4zM525 301h4v1h-4zM532 301h4v1h-4zM548 301h1v1h-1zM431 302h1v1h-1zM508 302h3v1h-3zM522 302h3v1h-3zM536 302h3v1h-3zM547 302h1v1h-1zM430 303h1v1h-1zM511 303h4v1h-4zM518 303h4v1h-4zM539 303h4v1h-4zM545 303h2v1h-2zM430 304h1v1h-1zM515 304h3v1h-3zM543 304h2v1h-2zM429 305h1v1h-1zM428 306h1v1h-1zM428 307h1v1h-1zM427 308h1v1h-1zM427 309h1v1h-1zM426 310h1v1h-1zM426 311h1v1h-1zM425 312h1v1h-1zM424 313h1v1h-1zM424 314h1v1h-1zM423 315h1v1h-1zM423 316h1v1h-1zM422 317h1v1h-1zM421 318h1v1h-1zM421 319h1v1h-1zM420 320h1v1h-1zM420 321h1v1h-1zM419 322h1v1h-1zM419 323h1v1h-1zM418 324h1v1h-1zM418 325h1v1h-1zM417 326h1v1h-1zM417 327h1v1h-1zM416 328h1v1h-1zM416 329h1v1h-1zM415 330h1v1h-1zM415 331h1v1h-1zM415 332h1v1h-1zM414 333h1v1h-1zM414 334h1v1h-1zM413 335h1v1h-1zM413 336h1v1h-1zM413 337h1v1h-1zM412 338h1v1h-1zM412 339h1v1h-1zM411 340h1v1h-1zM411 341h1v1h-1zM410 342h1v1h-1zM410 343h1v1h-1zM410 344h1v1h-1zM409 345h1v1h-1zM409 346h1v1h-1zM408 347h1v1h-1zM408 348h1v1h-1zM408 349h1v1h-1zM407 350h1v1h-1zM407 351h1v1h-1zM406 352h1v1h-1zM406 353h1v1h-1zM405 354h1v1h-1zM405 355h1v1h-1zM404 356h1v1h-1zM402 357h2v1h-2zM376 358h2v1h-2zM401 358h1v1h-1zM374 359h2v1h-2zM378 359h2v1h-2zM400 359h1v1h-1zM372 360h2v1h-2zM380 360h2v1h-2zM398 360h2v1h-2zM369 361h3v1h-3zM382 361h2v1h-2zM397 361h1v1h-1zM367 362h2v1h-2zM384 362h1v1h-1zM396 362h1v1h-1zM365 363h2v1h-2zM385 363h2v1h-2zM395 363h1v1h-1zM348 364h17v1h-17zM387 364h2v1h-2zM393 364h2v1h-2zM346 365h2v1h-2zM389 365h2v1h-2zM392 365h1v1h-1zM344 366h2v1h-2zM391 366h1v1h-1zM341 367h3v1h-3zM339 368h2v1h-2zM337 369h2v1h-2zM335 370h2v1h-2zM334 371h1v1h-1zM334 372h1v1h-1zM333 373h1v1h-1zM332 374h1v1h-1zM332 375h1v1h-1zM276 376h4v1h-4zM331 376h1v1h-1zM269 377h7v1h-7zM280 377h1v1h-1zM330 377h1v1h-1zM265 378h4v1h-4zM280 378h1v1h-1zM329 378h1v1h-1zM264 379h1v1h-1zM281 379h1v1h-1zM329 379h1v1h-1zM263 380h1v1h-1zM281 380h1v1h-1zM328 380h1v1h-1zM261 381h2v1h-2zM282 381h1v1h-1zM327 381h1v1h-1zM260 382h1v1h-1zM282 382h1v1h-1zM327 382h1v1h-1zM259 383h1v1h-1zM283 383h1v1h-1zM326 383h1v1h-1zM258 384h1v1h-1zM283 384h1v1h-1zM325 384h1v1h-1zM257 385h1v1h-1zM284 385h1v1h-1zM325 385h1v1h-1zM256 386h1v1h-1zM284 386h1v1h-1zM324 386h1v1h-1zM254 387h2v1h-2zM285 387h1v1h-1zM323 387h1v1h-1zM253 388h1v1h-1zM285 388h1v1h-1zM322 388h1v1h-1zM252 389h1v1h-1zM286 389h1v1h-1zM322 389h1v1h-1zM251 390h1v1h-1zM287 390h1v1h-1zM321 390h1v1h-1zM249 391h2v1h-2zM287 391h1v1h-1zM320 391h1v1h-1zM248 392h1v1h-1zM288 392h1v1h-1zM319 392h1v1h-1zM247 393h1v1h-1zM288 393h1v1h-1zM317 393h2v1h-2zM245 394h2v1h-2zM289 394h1v1h-1zM316 394h1v1h-1zM244 395h1v1h-1zM289 395h1v1h-1zM315 395h1v1h-1zM242 396h2v1h-2zM290 396h1v1h-1zM314 396h1v1h-1zM241 397h1v1h-1zM290 397h1v1h-1zM313 397h1v1h-1zM240 398h1v1h-1zM291 398h1v1h-1zM312 398h1v1h-1zM238 399h2v1h-2zM291 399h1v1h-1zM310 399h2v1h-2zM236 400h2v1h-2zM292 400h1v1h-1zM309 400h1v1h-1zM234 401h2v1h-2zM292 401h1v1h-1zM308 401h1v1h-1zM209 402h2v1h-2zM232 402h2v1h-2zM293 402h15v1h-15zM207 403h2v1h-2zM211 403h4v1h-4zM229 403h3v1h-3zM205 404h2v1h-2zM215 404h3v1h-3zM227 404h2v1h-2zM203 405h2v1h-2zM218 405h4v1h-4zM225 405h2v1h-2zM202 406h1v1h-1zM222 406h3v1h-3zM200 407h2v1h-2zM198 408h2v1h-2zM196 409h2v1h-2zM56 410h140v1h-140z"/>
<path fill="#0000cc" d="M932 9h4v1h-4zM925 10h7v1h-7zM918 11h7v1h-7zM911 12h7v1h-7zM904 13h7v1h-7zM897 14h7v1h-7zM890 15h7v1h-7zM883 16h7v1h-7zM876 17h7v1h-7zM869 18h7v1h-7zM848 19h21v1h-21zM841 20h7v1h-7zM834 21h7v1h-7zM827 22h7v1h-7zM820 23h7v1h-7zM813 24h7v1h-7zM806 25h7v1h-7zM799 26h7v1h-7zM792 27h7v1h-7zM786 28h6v1h-6zM765 29h21v1h-21zM758 30h7v1h-7zM751 31h7v1h-7zM744 32h7v1h-7zM737 33h7v1h-7zM730 34h7v1h-7zM725 35h5v1h-5zM721 36h4v1h-4zM718 37h3v1h-3zM714 38h4v1h-4zM712 39h2v1h-2zM711 40h1v1h-1zM710 41h1v1h-1zM708 42h2v1h-2zM707 43h1v1h-1zM706 44h1v1h-1zM705 45h1v1h-1zM704 46h1v1h-1zM703 47h1v1h-1zM701 48h2v1h-2zM700 49h1v1h-1zM699 50h1v1h-1zM698 51h1v1h-1zM697 52h1v1h-1zM696 53h1v1h-1zM694 54h2v1h-2zM693 55h1v1h-1zM692 56h1v1h-1zM691 57h1v1h-1zM690 58h1v1h-1zM689 59h1v1h-1zM687 60h2v1h-2zM686 61h1v1h-1zM685 62h1v1h-1zM684 63h1v1h-1zM683 64h1v1h-1zM682 65h1v1h-1zM681 66h1v1h-1zM680 67h1v1h-1zM679 68h1v1h-1zM678 69h1v1h-1zM677 70h1v1h-1zM676 71h1v1h-1zM675 72h1v1h-1zM674 73h1v1h-1zM673 74h1v1h-1zM672 75h1v1h-1zM671 76h1v1h-1zM670 77h1v1h-1zM669 78h1v1h-1zM668 79h1v1h-1zM667 80h1v1h-1zM666 81h1v1h-1zM665 82h1v1h-1zM664 83h1v1h-1zM663 84h1v1h-1zM663 85h1v1h-1zM662 86h1v1h-1zM661 87h1v1h-1zM660 88h1v1h-1zM659 89h1v1h-1zM658 90h1v1h-1zM657 91h1v1h-1zM656 92h1v1h-1zM655 93h1v1h-1zM654 94h1v1h-1zM653 95h1v1h-1zM652 96h1v1h-1zM651 97h1v1h-1zM649 98h2v1h-2zM648 99h1v1h-1zM647 100h1v1h-1zM646 101h1v1h-1zM645 102h1v1h-1zM644 103h1v1h-1zM643 104h1v1h-1zM642 105h1v1h-1zM641 106h1v1h-1zM640 107h1v1h-1zM639 108h1v1h-1zM638 109h1v1h-1zM637 110h1v1h-1zM636 111h1v1h-1zM635 112h1v1h-1zM634 113h1v1h-1zM633 114h1v1h-1zM632 115h1v1h-1zM631 116h1v1h-1zM630 117h1v1h-1zM629 118h1v1h-1zM628 119h1v1h-1zM627 120h1v1h-1zM626 121h1v1h-1zM624 122h2v1h-2zM623 123h1v1h-1zM622 124h1v1h-1zM621 125h1v1h-1zM620 126h1v1h-1zM619 127h1v1h-1zM617 128h2v1h-2zM616 129h1v1h-1zM615 130h1v1h-1zM614 131h1v1h-1zM613 132h1v1h-1zM612 133h1v1h-1zM611 134h1v1h-1zM610 135h1v1h-1zM609 136h1v1h-1zM607 137h2v1h-2zM606 138h1v1h-1zM605 139h1v1h-1zM604 140h1v1h-1zM603 141h1v1h-1zM602 142h1v1h-1zM601 143h1v1h-1zM600 144h1v1h-1zM599 145h1v1h-1zM598 146h1v1h-1zM597 147h1v1h-1zM596 148h1v1h-1zM595 149h1v1h-1zM593 150h2v1h-2zM592 151h1v1h-1zM591 152h1v1h-1zM590 153h1v1h-1zM589 154h1v1h-1zM588 155h1v1h-1zM587 156h1v1h-1zM586 157h1v1h-1zM585 158h1v1h-1zM584 159h1v1h-1zM583 160h1v1h-1zM582 161h1v1h-1zM581 162h1v1h-1zM580 163h1v1h-1zM579 164h1v1h-1zM578 165h1v1h-1zM577 166h1v1h-1zM576 167h1v1h-1zM575 168h1v1h-1zM574 169h1v1h-1zM573 170h1v1h-1zM572 171h1v1h-1zM571 172h1v1h-1zM570 173h1v1h-1zM568 174h2v1h-2zM567 175h1v1h-1zM566 176h1v1h-1zM565 177h1v1h-1zM564 178h1v1h-1zM563 179h1v1h-1zM561 180h2v1h-2zM560 181h1v1h-1zM559 182h1v1h-1zM558 183h1v1h-1zM557 184h1v1h-1zM556 185h1v1h-1zM555 186h1v1h-1zM554 187h1v1h-1zM553 188h1v1h-1zM551 189h2v1h-2zM550 190h1v1h-1zM549 191h1v1h-1zM548 192h1v1h-1zM547 193h1v1h-1zM546 194h1v1h-1zM545 195h1v1h-1zM544 196h1v1h-1zM543 197h1v1h-1zM542 198h1v1h-1zM541 199h1v1h-1zM540 200h1v1h-1zM539 201h1v1h-1zM537 202h2v1h-2zM536 203h1v1h-1zM535 204h1v1h-1zM534 205h1v1h-1zM533 206h1v1h-1zM532 207h1v1h-1zM531 208h1v1h-1zM530 209h1v1h-1zM529 210h1v1h-1zM528 211h1v1h-1zM528 212h1v1h-1zM527 213h1v1h-1zM526 214h1v1h-1zM525 215h1v1h-1zM524 216h1v1h-1zM523 217h1v1h-1zM523 218h1v1h-1zM522 219h1v1h-1zM521 220h1v1h-1zM520 221h1v1h-1zM519 222h1v1h-1zM518 223h1v1h-1zM518 224h1v1h-1zM517 225h1v1h-1zM516 226h1v1h-1zM515 227h1v1h-1zM514 228h1v1h-1zM512 229h2v1h-2zM511 230h1v1h-1zM510 231h1v1h-1zM509 232h1v1h-1zM508 233h1v1h-1zM507 234h1v1h-1zM505 235h2v1h-2zM504 236h1v1h-1zM503 237h1v1h-1zM502 238h1v1h-1zM501 239h1v1h-1zM500 240h1v1h-1zM499 241h1v1h-1zM498 242h1v1h-1zM497 243h1v1h-1zM496 244h1v1h-1zM496 245h1v1h-1zM495 246h1v1h-1zM494 247h1v1h-1zM493 248h1v1h-1zM492 249h1v1h-1zM491 250h1v1h-1zM490 251h1v1h-1zM489 252h1v1h-1zM488 253h1v1h-1zM487 254h1v1h-1zM486 255h1v1h-1zM485 256h1v1h-1zM484 257h1v1h-1zM483 258h1v1h-1zM482 259h1v1h-1zM481 260h1v1h-1zM480 261h1v1h-1zM479 262h1v1h-1zM478 263h1v1h-1zM477 264h1v1h-1zM476 265h1v1h-1zM475 266h1v1h-1zM474 267h1v1h-1zM473 268h1v1h-1zM472 269h1v1h-1zM471 270h1v1h-1zM470 271h1v1h-1zM469 272h1v1h-1zM468 273h1v1h-1zM467 274h1v1h-1zM466 275h1v1h-1zM465 276h1v1h-1zM464 277h1v1h-1zM463 278h1v1h-1zM462 279h1v1h-1zM461 280h1v1h-1zM460 281h1v1h-1zM459 282h1v1h-1zM457 283h2v1h-2zM456 284h1v1h-1zM455 285h1v1h-1zM454 286h1v1h-1zM453 287h1v1h-1zM452 288h1v1h-1zM450 289h2v1h-2zM449 290h1v1h-1zM448 291h1v1h-1zM447 292h1v1h-1zM446 293h1v1h-1zM445 294h1v1h-1zM444 295h1v1h-1zM443 296h1v1h-1zM442 297h1v1h-1zM441 298h1v1h-1zM440 299h1v1h-1zM439 300h1v1h-1zM438 301h1v1h-1zM437 302h1v1h-1zM436 303h1v1h-1zM435 304h1v1h-1zM434 305h1v1h-1zM433 306h1v1h-1zM432 307h1v1h-1zM431 308h1v1h-1zM430 309h1v1h-1zM429 310h1v1h-1zM428 311h1v1h-1zM427 312h1v1h-1zM426 313h1v1h-1zM425 314h1v1h-1zM424 315h1v1h-1zM423 316h1v1h-1zM422 317h1v1h-1zM421 318h1v1h-1zM420 319h1v1h-1zM419 320h1v1h-1zM418 321h1v1h-1zM417 322h1v1h-1zM416 323h1v1h-1zM415 324h1v1h-1zM415 325h1v1h-1zM414 326h1v1h-1zM413 327h1v1h-1zM412 328h1v1h-1zM411 329h1v1h-1zM410 330h1v1h-1zM409 331h1v1h-1zM408 332h1v1h-1zM408 333h1v1h-1zM407 334h1v1h-1zM406 335h1v1h-1zM405 336h1v1h-1zM404 337h1v1h-1zM403 338h1v1h-1zM402 339h1v1h-1zM401 340h1v1h-1zM400 341h1v1h-1zM399 342h1v1h-1zM398 343h1v1h-1zM397 344h1v1h-1zM396 345h1v1h-1zM395 346h1v1h-1zM394 347h1v1h-1zM393 348h1v1h-1zM392 349h1v1h-1zM390 350h2v1h-2zM386 351h4v1h-4zM383 352h3v1h-3zM379 353h4v1h-4zM374 354h5v1h-5zM367 355h7v1h-7zM362 356h5v1h-5zM358 357h4v1h-4zM355 358h3v1h-3zM351 359h4v1h-4zM346 360h5v1h-5zM339 361h7v1h-7zM332 362h7v1h-7zM325 363h7v1h-7zM318 364h7v1h-7zM311 365h7v1h-7zM306 366h5v1h-5zM302 367h4v1h-4zM299 368h3v1h-3zM295 369h4v1h-4zM290 370h5v1h-5zM283 371h7v1h-7zM276 372h7v1h-7zM269 373h7v1h-7zM264 374h5v1h-5zM260 375h4v1h-4zM257 376h3v1h-3zM253 377h4v1h-4zM248 378h5v1h-5zM241 379h7v1h-7zM234 380h7v1h-7zM227 381h7v1h-7zM207 382h20v1h-20zM202 383h5v1h-5zM198 384h4v1h-4zM193 385h5v1h-5zM189 386h4v1h-4zM185 387h4v1h-4zM179 388h6v1h-6zM172 389h7v1h-7zM165 390h7v1h-7zM158 391h7v1h-7zM153 392h5v1h-5zM149 393h4v1h-4zM146 394h3v1h-3zM142 395h4v1h-4zM137 396h5v1h-5zM130 397h7v1h-7zM123 398h7v1h-7zM116 399h7v1h-7zM109 400h7v1h-7zM102 401h7v1h-7zM95 402h7v1h-7zM88 403h7v1h-7zM81 404h7v1h-7zM74 405h7v1h-7zM69 406h5v1h-5zM65 407h4v1h-4zM62 408h3v1h-3zM58 409h4v1h-4zM56 410h2v1h-2z"/>
</svg>
</body></html>
